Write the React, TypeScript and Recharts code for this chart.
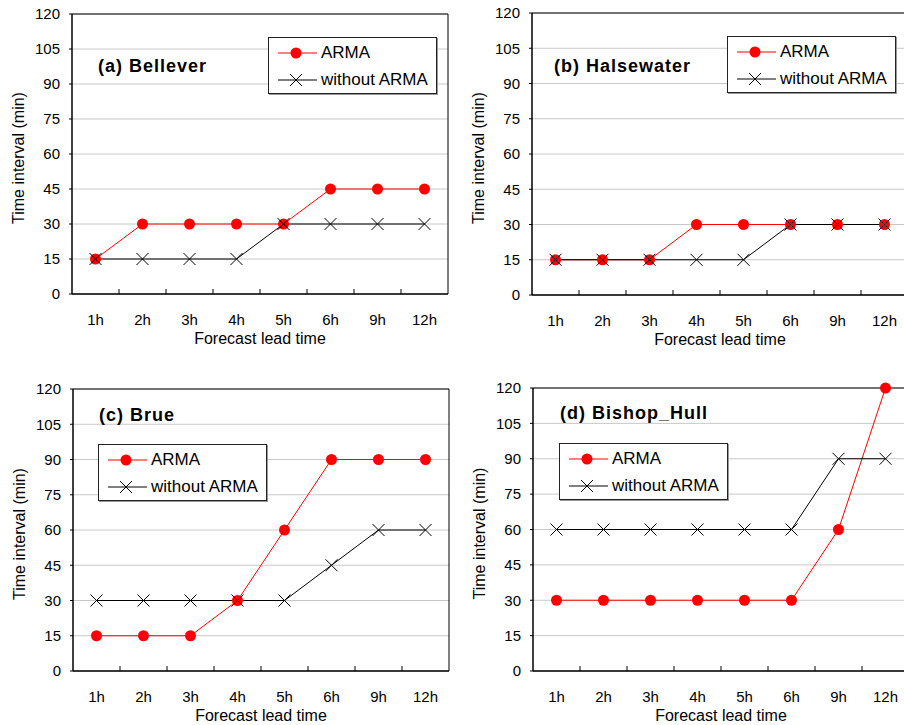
import {
  LineChart,
  Line,
  XAxis,
  YAxis,
  CartesianGrid,
  ReferenceArea,
  ReferenceLine,
} from 'recharts';

const categories = ['1h', '2h', '3h', '4h', '5h', '6h', '9h', '12h'];
const yTicks = [0, 15, 30, 45, 60, 75, 90, 105, 120];
const boundaries = [1, 2, 3, 4, 5, 6, 7];

const bellArma = [15, 30, 30, 30, 30, 45, 45, 45];
const bellWithout = [15, 15, 15, 15, 30, 30, 30, 30];
const halseArma = [15, 15, 15, 30, 30, 30, 30, 30];
const halseWithout = [15, 15, 15, 15, 15, 30, 30, 30];
const brueArma = [15, 15, 15, 30, 60, 90, 90, 90];
const brueWithout = [30, 30, 30, 30, 30, 45, 60, 60];
const bishopArma = [30, 30, 30, 30, 30, 30, 60, 120];
const bishopWithout = [60, 60, 60, 60, 60, 60, 90, 90];

const FONT = '"Liberation Sans", Arial, sans-serif';
const PLOT_W = 376;

const CrossDot = (props: any) => {
  const { cx, cy, index } = props;
  if (cx == null || cy == null) return <g key={index} />;
  const s = 6;
  return (
    <path
      key={index}
      d={`M${cx - s},${cy - s}L${cx + s},${cy + s}M${cx - s},${cy + s}L${cx + s},${cy - s}`}
      stroke="#000"
      strokeWidth={1}
      fill="none"
    />
  );
};

const XTick = (props: any) => {
  const { x, y, payload } = props;
  const i = Math.floor(Number(payload.value));
  return (
    <text x={x} y={Number(y) + 31} textAnchor="middle" fontSize={15} fill="#000">
      {categories[i]}
    </text>
  );
};

const YLabel = (props: any) => {
  const vb = props.viewBox || {};
  const cx = vb.x + 10;
  const cy = vb.y + vb.height / 2 + 4;
  return (
    <text
      x={cx}
      y={cy}
      transform={`rotate(-90, ${cx}, ${cy})`}
      textAnchor="middle"
      dominantBaseline="central"
      fontSize={16}
      fill="#000"
    >
      Time interval (min)
    </text>
  );
};

function LegendBox({ left, top }: { left: number; top: number }) {
  const row = (y: number, label: string, arma: boolean) => (
    <div style={{ position: 'absolute', left: 0, top: y - 8, height: 16, width: '100%' }}>
      <svg width={44} height={16} style={{ position: 'absolute', left: 8, top: 0 }}>
        <line x1={1} y1={8} x2={40} y2={8} stroke={arma ? '#ff0000' : '#000'} strokeWidth={1} />
        {arma ? (
          <circle cx={19} cy={8} r={5.5} fill="#ff0000" />
        ) : (
          <path d="M13,2L25,14M13,14L25,2" stroke="#000" strokeWidth={1} />
        )}
      </svg>
      <div
        style={{
          position: 'absolute',
          left: 52,
          top: -1,
          fontSize: 17,
          lineHeight: '17px',
          whiteSpace: 'nowrap',
          color: '#000',
        }}
      >
        {label}
      </div>
    </div>
  );
  return (
    <div
      style={{
        position: 'absolute',
        left,
        top,
        width: 167,
        height: 55,
        border: '1px solid #222',
        boxShadow: '1px 1px 0 #999',
        background: '#fff',
      }}
    >
      {row(15, 'ARMA', true)}
      {row(42, 'without ARMA', false)}
    </div>
  );
}

type PanelProps = {
  title: string;
  arma: number[];
  without: number[];
  plotLeft: number;
  plotTop: number;
  plotBottom: number;
  titleX: number;
  titleY: number;
  legendX: number;
  legendY: number;
};

function Panel(p: PanelProps) {
  const data = categories.map((c, i) => ({ x: i + 0.5, name: c, arma: p.arma[i], without: p.without[i] }));
  const mTop = 10;
  const plotH = p.plotBottom - p.plotTop;
  const width = 72 + PLOT_W + 10;
  const height = mTop + plotH + 64;
  // tick mark length of 5px expressed in axis units
  const markLen = (5 / plotH) * 120;
  return (
    <>
      <div style={{ position: 'absolute', left: p.plotLeft - 72, top: p.plotTop - mTop }}>
        <LineChart width={width} height={height} data={data} margin={{ top: mTop, right: 10, left: 8, bottom: 4 }}>
          <CartesianGrid vertical={false} stroke="#c8c8c8" />
          <XAxis
            dataKey="x"
            type="number"
            domain={[0, 8]}
            ticks={categories.map((_, i) => i + 0.5)}
            interval={0}
            tickLine={false}
            tickSize={0}
            tickMargin={0}
            axisLine={{ stroke: '#000' }}
            tick={XTick}
            height={60}
            label={{ value: 'Forecast lead time', position: 'insideBottom', offset: 10, fill: '#000', fontSize: 16 }}
          />
          <YAxis
            type="number"
            domain={[0, 120]}
            ticks={yTicks}
            interval={0}
            width={64}
            tickSize={3}
            tickMargin={9}
            tickLine={{ stroke: '#000' }}
            axisLine={{ stroke: '#000' }}
            tick={{ fill: '#000', fontSize: 15 }}
            label={(props: any) => <YLabel {...props} />}
          />
          <ReferenceArea x1={0} x2={8} y1={0} y2={120} fill="none" stroke="#000" strokeWidth={1} />
          {boundaries.map((b) => (
            <ReferenceLine
              key={b}
              segment={[{ x: b, y: 0 }, { x: b, y: markLen }]}
              stroke="#000"
              strokeWidth={1}
            />
          ))}
          <Line
            dataKey="arma"
            stroke="#ff0000"
            strokeWidth={1}
            dot={{ r: 5.5, fill: '#ff0000', stroke: '#ff0000', strokeWidth: 0 }}
            isAnimationActive={false}
          />
          <Line dataKey="without" stroke="#000" strokeWidth={1} dot={CrossDot} isAnimationActive={false} />
        </LineChart>
      </div>
      <div
        style={{
          position: 'absolute',
          left: p.titleX,
          top: p.titleY - 9,
          fontSize: 18,
          lineHeight: '18px',
          fontWeight: 'bold',
          letterSpacing: 1,
          whiteSpace: 'nowrap',
          color: '#000',
        }}
      >
        {p.title}
      </div>
      <LegendBox left={p.legendX} top={p.legendY} />
    </>
  );
}

export default function App() {
  return (
    <div
      style={{
        position: 'absolute',
        left: 0,
        top: 0,
        width: 904,
        height: 725,
        overflow: 'hidden',
        background: '#fff',
        fontFamily: FONT,
      }}
    >
      <Panel title="(a) Bellever" arma={bellArma} without={bellWithout}
        plotLeft={72} plotTop={14} plotBottom={294} titleX={98} titleY={66} legendX={268} legendY={37} />
      <Panel title="(b) Halsewater" arma={halseArma} without={halseWithout}
        plotLeft={532} plotTop={13} plotBottom={295} titleX={554} titleY={66} legendX={727} legendY={36} />
      <Panel title="(c) Brue" arma={brueArma} without={brueWithout}
        plotLeft={73} plotTop={389} plotBottom={671} titleX={99} titleY={415} legendX={98} legendY={444} />
      <Panel title="(d) Bishop_Hull" arma={bishopArma} without={bishopWithout}
        plotLeft={533} plotTop={388} plotBottom={671} titleX={560} titleY={413} legendX={559} legendY={443} />
    </div>
  );
}
